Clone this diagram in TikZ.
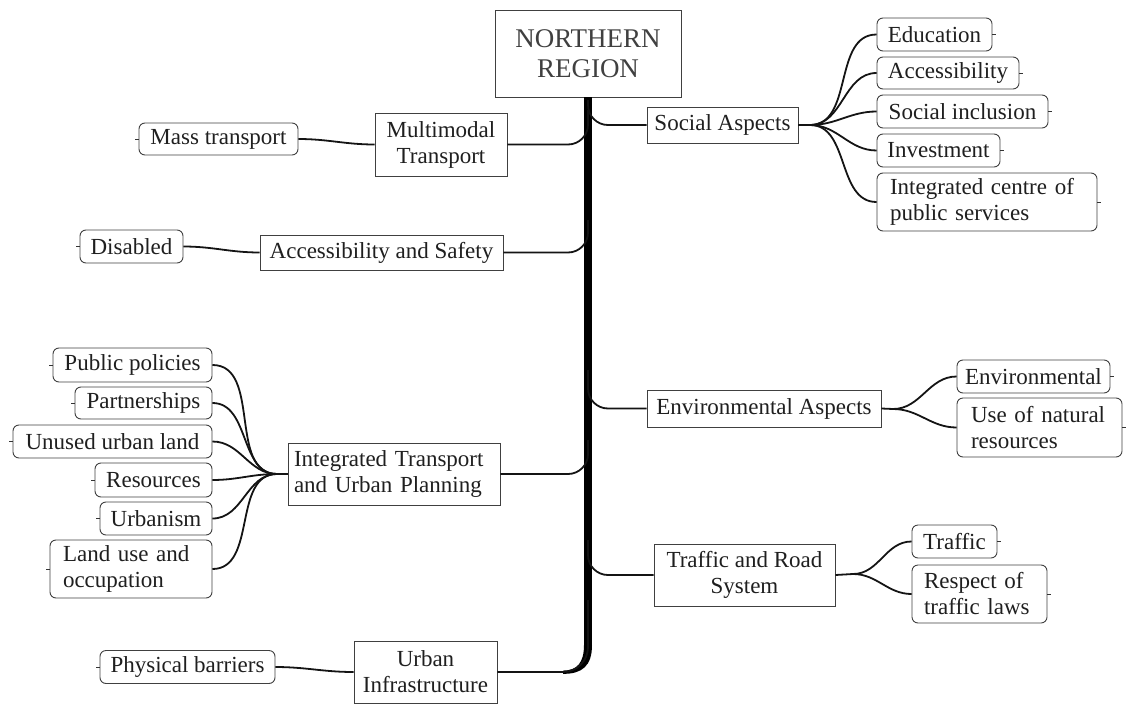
\documentclass[tikz,border=0pt]{standalone}
\usepackage{fontspec}
\setmainfont{Liberation Serif}
\begin{document}
\begin{tikzpicture}[x=1pt,y=-1pt,
  every node/.style={font=\fontsize{23}{26}\selectfont, text=black!88},
  rbox/.style={draw=black!75, line width=0.9pt, fill=white, inner sep=0pt},
  lbox/.style={draw=black!75, line width=0.9pt, fill=white, inner sep=0pt, rounded corners=6pt},
  conn/.style={line width=1.8pt, black!92},
  tickline/.style={line width=1pt, black!80},
  trunkconn/.style={conn, rounded corners=20pt}
]
\useasboundingbox (0,0) rectangle (1127,704);

% central node
\node[rbox, minimum width=186pt, minimum height=87pt, align=center,
      font=\fontsize{27}{30}\selectfont, text=black!75] (nr) at (588,53.5) {NORTHERN\\REGION};

% main branches
\node[rbox, minimum width=132pt, minimum height=63pt, align=center] (multi) at (441,144.5) {Multimodal\\Transport};
\node[rbox, minimum width=243pt, minimum height=35pt] (acc) at (381.5,252.5) {Accessibility and Safety};
\node[rbox, minimum width=212pt, minimum height=62pt, text width=202pt, align=left] (itup) at (394,474) {\hspace*{1pt}Integrated Transport\\\hspace*{1pt}and Urban Planning};
\node[rbox, minimum width=143pt, minimum height=62pt, align=center] (urban) at (425.5,672) {Urban\\Infrastructure};
\node[rbox, minimum width=151pt, minimum height=36pt] (soc) at (722.5,125) {Social Aspects};
\node[rbox, minimum width=234pt, minimum height=37pt] (env) at (764,408.5) {Environmental Aspects};
\node[rbox, minimum width=181pt, minimum height=62pt, align=center] (trs) at (744.5,575) {Traffic and Road\\System};

% left leaves
\node[lbox, minimum width=159pt, minimum height=32pt] (mass) at (218.5,139) {Mass transport};
\node[lbox, minimum width=103pt, minimum height=33pt] (dis) at (131.5,246.5) {Disabled};
\node[lbox, minimum width=159pt, minimum height=34pt] (pp) at (132.5,365) {Public policies};
\node[lbox, minimum width=137pt, minimum height=32pt] (part) at (143.5,403) {Partnerships};
\node[lbox, minimum width=199pt, minimum height=33pt] (unu) at (112.5,441.5) {Unused urban land};
\node[lbox, minimum width=117pt, minimum height=34pt] (res) at (153.5,480) {Resources};
\node[lbox, minimum width=112pt, minimum height=33pt] (urb) at (156,518.5) {Urbanism};
\node[lbox, minimum width=162pt, minimum height=58pt, text width=136pt, align=left] (land) at (131,569) {Land use and\\occupation};
\node[lbox, minimum width=175pt, minimum height=33pt] (phys) at (187.5,667) {Physical barriers};

% right leaves
\node[lbox, minimum width=115pt, minimum height=33pt] (edu) at (934.5,34.5) {Education};
\node[lbox, minimum width=142pt, minimum height=32pt] (acs) at (948,73) {Accessibility};
\node[lbox, minimum width=171pt, minimum height=33pt] (sinc) at (962.5,111.5) {Social inclusion};
\node[lbox, minimum width=123pt, minimum height=33pt] (inv) at (938.5,150.5) {Investment};
\node[lbox, minimum width=220pt, minimum height=58pt, text width=194pt, align=left] (icps) at (987,202) {Integrated centre of\\public services};
\node[lbox, minimum width=153pt, minimum height=33pt] (envl) at (1033.5,376.5) {Environmental};
\node[lbox, minimum width=165pt, minimum height=59pt, text width=137pt, align=left] (use) at (1039.5,427.5) {Use of natural\\resources};
\node[lbox, minimum width=85pt, minimum height=33pt] (traf) at (954.5,541.5) {Traffic};
\node[lbox, minimum width=135pt, minimum height=58pt, text width=111pt, align=left] (resp) at (979.5,594) {Respect of\\traffic laws};

% trunk
\coordinate (tb) at (588,646);
\draw[line width=8pt, black] (nr.south) -- (tb);
\fill[black] (584,645) -- (592,645) .. controls (592,666) and (582,674) .. (563,673.8)
  -- (563,670.6) .. controls (577,670.5) and (584,663) .. (584,645) -- cycle;

\coordinate (tS) at (588,100);
\coordinate (tM) at (588,110);
\coordinate (tA) at (588,220);
\coordinate (tE) at (588,370);
\coordinate (tI) at (588,440);
\coordinate (tT) at (588,540);
\coordinate (tU) at (588,600);

\draw[trunkconn] (tS) |- (soc.west);
\draw[trunkconn] (tM) |- (multi.east);
\draw[trunkconn] (tA) |- (acc.east);
\draw[trunkconn] (tE) |- (env.west);
\draw[trunkconn] (tI) |- (itup.east);
\draw[trunkconn] (tT) |- (trs.west);
\draw[conn, rounded corners=25pt] (tU) |- (urban.east);

% left sub-branches
\draw[conn] (mass.east) to[out=0,in=180] (multi.west);
\draw[conn] (dis.east) to[out=0,in=180] (acc.west);
\draw[conn] (phys.east) to[out=0,in=180] (urban.west);

\coordinate (lf) at (277,474);
\draw[conn] (lf) -- (itup.west);
\foreach \n in {pp,part,unu,res,urb,land}
  \draw[conn] (\n.east) to[out=0,in=180] (lf);

% right sub-branches
\coordinate (sf) at (810,125);
\draw[conn] (soc.east) -- (sf);
\foreach \n in {edu,acs,sinc,inv,icps}
  \draw[conn] (sf) to[out=0,in=180] (\n.west);

\coordinate (ef) at (893,409);
\draw[conn] (env.east) -- (ef);
\foreach \n in {envl,use}
  \draw[conn] (ef) to[out=0,in=180] (\n.west);

\coordinate (tf) at (853,574);
\draw[conn] (trs.east) -- (tf);
\foreach \n in {traf,resp}
  \draw[conn] (tf) to[out=0,in=180] (\n.west);

% ticks
\foreach \n in {mass,dis,pp,part,unu,res,urb,land,phys}
  \draw[tickline] (\n.west) -- ++(-4,0);
\foreach \n in {edu,acs,sinc,inv,icps,envl,use,traf,resp}
  \draw[tickline] (\n.east) -- ++(4,0);
\end{tikzpicture}
\end{document}
